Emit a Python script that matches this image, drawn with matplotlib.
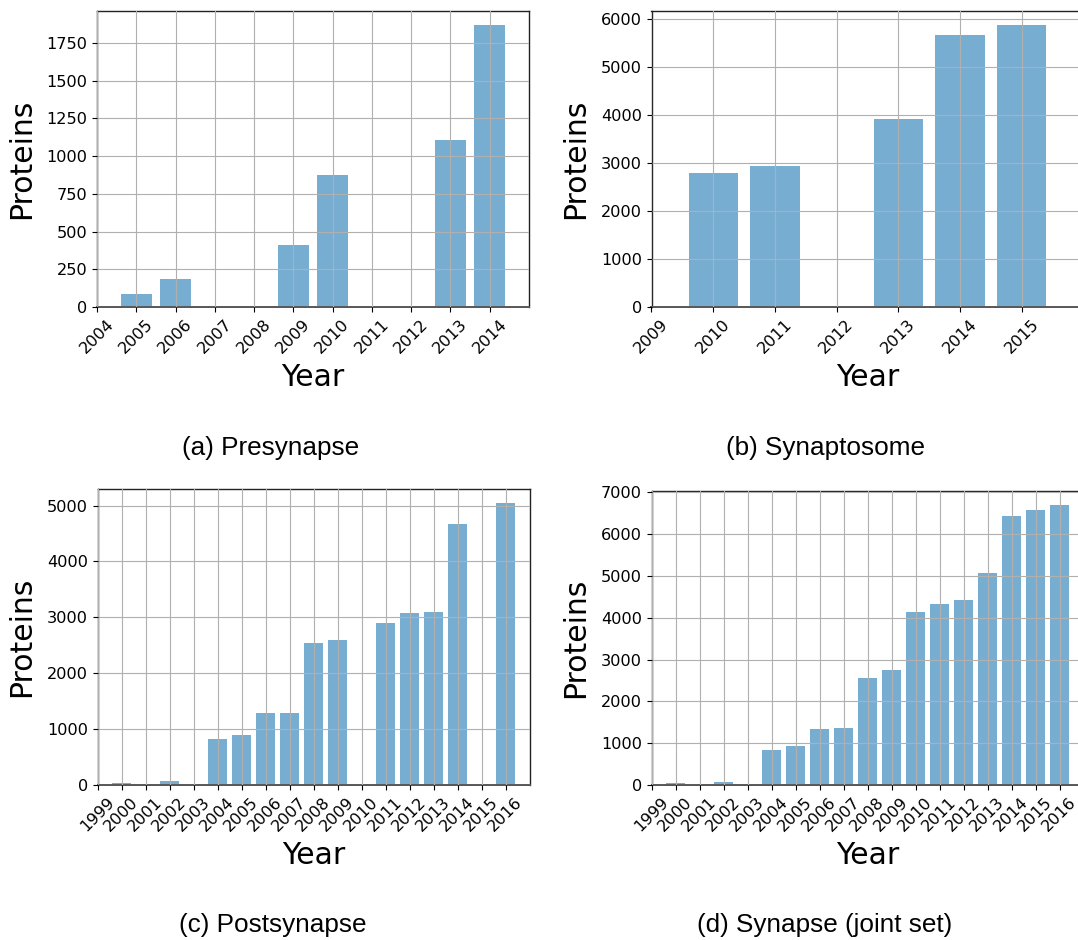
import matplotlib
matplotlib.use("Agg")
import matplotlib.pyplot as plt

# (a) Presynapse
pre_years = [2005, 2006, 2009, 2010, 2013, 2014]
pre_counts = [86, 185, 410, 874, 1106, 1867]
pre_ticks = list(range(2004, 2015))

# (b) Synaptosome
syn_years = [2010, 2011, 2013, 2014, 2015]
syn_counts = [2780, 2931, 3908, 5655, 5863]
syn_ticks = list(range(2009, 2016))

# (c) Postsynapse
post_years = [2000, 2002, 2004, 2005, 2006, 2007, 2008, 2009, 2011, 2012, 2013, 2014, 2016]
post_counts = [36, 70, 823, 894, 1288, 1290, 2540, 2594, 2898, 3077, 3095, 4669, 5045]
post_ticks = list(range(1999, 2017))

# (d) Synapse (joint set)
joint_years = [2000, 2002, 2004, 2005, 2006, 2007, 2008, 2009, 2010, 2011, 2012, 2013, 2014, 2015, 2016]
joint_counts = [40, 72, 837, 933, 1340, 1364, 2560, 2751, 4139, 4330, 4426, 5072, 6435, 6579, 6699]
joint_ticks = list(range(1999, 2017))

captions = ["(a) Presynapse", "(b) Synaptosome", "(c) Postsynapse", "(d) Synapse (joint set)"]

W, H = 1078, 940
fig = plt.figure(figsize=(W / 100, H / 100), dpi=100)


def box(left, top, right, bottom):
    return [left / W, 1 - bottom / H, (right - left) / W, (bottom - top) / H]


panels = [
    (box(97, 11, 529, 307), pre_years, pre_counts, pre_ticks),
    (box(651.5, 11, 1083.5, 307), syn_years, syn_counts, syn_ticks),
    (box(97.5, 489, 529.5, 785), post_years, post_counts, post_ticks),
    (box(651.5, 491, 1083.5, 785), joint_years, joint_counts, joint_ticks),
]

for rect, yrs, cnts, ticks in panels:
    ax = fig.add_axes(rect)
    ax.bar(yrs, cnts, width=0.8, color="#1f77b4", alpha=0.6, zorder=1)
    ax.set_xlim(ticks[0], ticks[-1] + 1)
    ax.set_xticks(ticks)
    ax.set_xticklabels([str(t) for t in ticks], rotation=45, ha="center")
    ax.grid(True, color="#b0b0b0", linewidth=0.8, zorder=2)
    ax.set_axisbelow(False)
    ax.tick_params(labelsize=11.6, length=3.5, width=0.8)
    ax.set_xlabel("Year", fontsize=21.5, labelpad=5)
    ax.set_ylabel("Proteins", fontsize=21.5)
    ax.yaxis.set_label_coords(-0.142, 0.5)
    for name, sp in ax.spines.items():
        sp.set_color("#222222")
        sp.set_linewidth(1.0)
    ax.spines["bottom"].set_color("#555555")
    ax.spines["bottom"].set_linewidth(1.4)

cap_pos = [(271, 448), (825, 448), (273, 925), (825, 925)]
for (cx, cy), txt in zip(cap_pos, captions):
    fig.text(cx / W, 1 - cy / H, txt, ha="center", va="center",
             fontsize=18.8, family="Liberation Sans")

fig.savefig("out.png", dpi=100)
